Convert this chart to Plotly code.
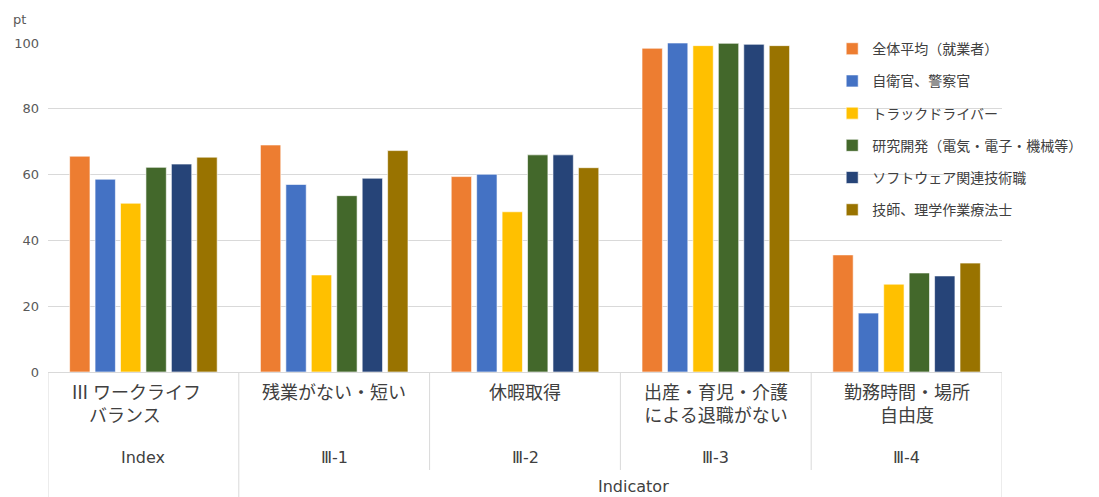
import plotly.graph_objects as go

categories = ["Ⅲ ワークライフ<br>　バランス", "残業がない・短い", "休暇取得", "出産・育児・介護<br>による退職がない", "勤務時間・場所<br>自由度"]
codes = ["Index", "Ⅲ-1", "Ⅲ-2", "Ⅲ-3", "Ⅲ-4"]
top_group = "Indicator"

series_names = ["全体平均（就業者）", "自衛官、警察官", "トラックドライバー",
                "研究開発（電気・電子・機械等）", "ソフトウェア関連技術職", "技師、理学作業療法士"]
zentai = [65.6, 69.0, 59.4, 98.4, 35.6]
jieikan = [58.6, 57.0, 60.1, 100.0, 17.9]
truck = [51.3, 29.5, 48.7, 99.2, 26.7]
kenkyu = [62.2, 53.6, 66.0, 99.9, 30.1]
software = [63.2, 58.9, 66.0, 99.6, 29.2]
gishi = [65.3, 67.3, 62.1, 99.2, 33.1]
values = [zentai, jieikan, truck, kenkyu, software, gishi]
colors = ["#ED7D31", "#4472C4", "#FFC000", "#43682B", "#264478", "#997300"]

JP = "Noto Sans CJK JP, DejaVu Sans, sans-serif"
TXT = "#404040"
GRID = "#d9d9d9"

x = list(range(len(categories)))
fig = go.Figure()
for i, (name, vals, col) in enumerate(zip(series_names, values, colors)):
    fig.add_trace(go.Bar(
        x=x, y=vals, name=name, marker_color=col,
        marker_line=dict(color="rgba(255,255,255,0.6)", width=1),
        legendgroup=f"g{i}",
    ))

fig.update_layout(
    width=1099, height=497,
    margin=dict(l=48, r=93, t=43, b=125),
    paper_bgcolor="white", plot_bgcolor="white",
    barmode="group", bargap=0.2, bargroupgap=0.2,
    font=dict(family=JP, color=TXT),
    legend=dict(
        x=0.822, y=1.03, xanchor="left", yanchor="top",
        bgcolor="rgba(0,0,0,0)", font=dict(size=14, color=TXT, family=JP),
        tracegroupgap=11, traceorder="grouped",
    ),
    showlegend=True,
)
fig.update_yaxes(
    range=[0, 100], dtick=20, showgrid=True, gridcolor=GRID, gridwidth=1,
    zeroline=False, showline=False, ticks="",
    tickfont=dict(size=13, color="#595959", family="DejaVu Sans, sans-serif"),
    ticklabelstandoff=8,
)
fig.update_xaxes(
    range=[-0.5, len(categories) - 0.5], showticklabels=False, showgrid=False,
    zeroline=False, showline=True, linecolor=GRID, linewidth=1, ticks="",
)

# category labels (three levels)
for i, (c, code) in enumerate(zip(categories, codes)):
    fig.add_annotation(x=i, y=0, xref="x", yref="paper", text=c, showarrow=False,
                       yanchor="top", yshift=-4, xshift=-7 if i == 0 else 0,
                       align="center" if i else "left",
                       font=dict(size=18, color=TXT, family=JP))
    fig.add_annotation(x=i, y=0, xref="x", yref="paper", text=code, showarrow=False,
                       yanchor="top", yshift=-74,
                       font=dict(size=16, color=TXT, family="DejaVu Sans, " + JP))
fig.add_annotation(x=(1 + len(categories) - 1) / 2, y=0, xref="x", yref="paper",
                   text=top_group, showarrow=False, yanchor="top", yshift=-103, xshift=13,
                   font=dict(size=16, color=TXT, family="DejaVu Sans, " + JP))

# divider lines of the category table
n = len(categories)
for b in range(n + 1):
    xb = b - 0.5
    full = b in (0, 1, n)
    fig.add_shape(type="line", xref="x", yref="paper", x0=xb, x1=xb,
                  y0=0, y1=(-125 / 329) if full else (-98 / 329),
                  line=dict(color=GRID, width=1))

fig.add_annotation(x=0, y=1, xref="paper", yref="paper", text="pt", showarrow=False,
                   xanchor="center", yanchor="bottom", xshift=-29, yshift=14,
                   font=dict(size=13, color="#595959", family="DejaVu Sans, sans-serif"))

fig.write_html("out.html")
